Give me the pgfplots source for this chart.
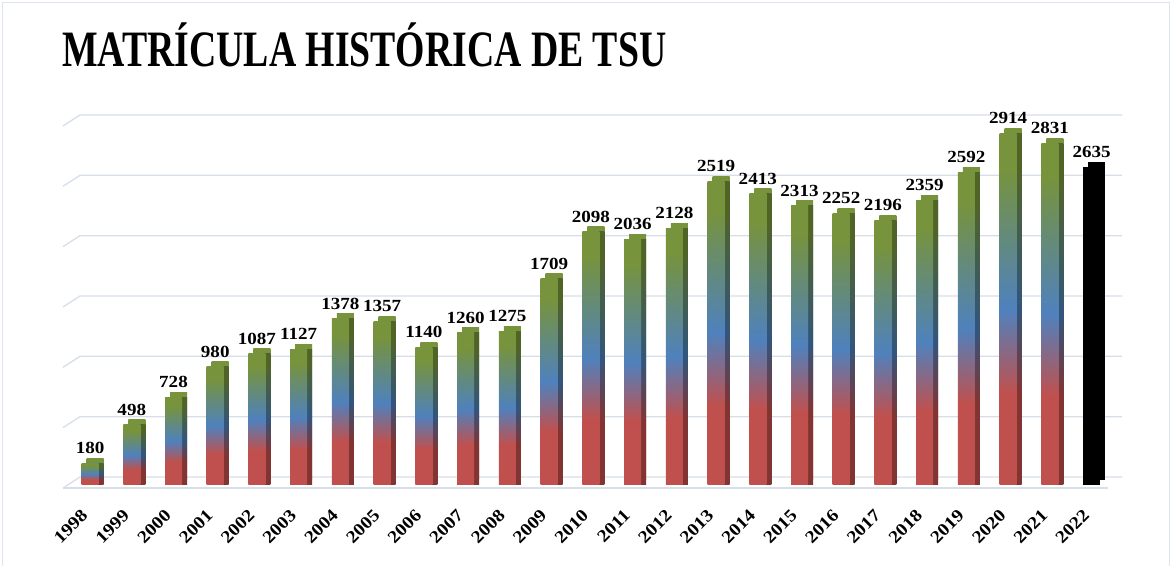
\documentclass[border=0pt]{standalone}
\usepackage{pgfplots}
\pgfplotsset{compat=1.18}
\usepackage{fontspec}
\setmainfont{Liberation Serif}
\newfontfamily\titlefont{Liberation Serif}[FakeStretch=0.74]
\newfontfamily\labfont{Liberation Serif}[FakeStretch=1.12]
\definecolor{bred}{RGB}{192,80,77}
\definecolor{bblue}{RGB}{79,129,189}
\definecolor{bgreen}{RGB}{119,147,60}
\definecolor{dred}{RGB}{130,52,50}
\definecolor{dblue}{RGB}{50,85,125}
\definecolor{dgreen}{RGB}{80,100,40}
\definecolor{gridc}{RGB}{214,222,232}
\definecolor{framec}{RGB}{220,228,238}
\pgfdeclareverticalshading{barshade}{100bp}{color(0bp)=(bred); color(38bp)=(bred); color(50bp)=(bblue); color(70bp)=(bgreen); color(100bp)=(bgreen)}
\pgfdeclareverticalshading{barshadedark}{100bp}{color(0bp)=(dred); color(38bp)=(dred); color(50bp)=(dblue); color(70bp)=(dgreen); color(100bp)=(dgreen)}
% one 3D bar: top face, side face, front face, value label
\newcommand{\onebar}[2]{%
  \addplot[ybar, bar width=17pt, bar shift=5pt, yshift=5pt, draw=none, shade, shading=barshade] coordinates {(#1,#2)};
  \addplot[ybar, bar width=17pt, bar shift=5pt, draw=none, shade, shading=barshadedark] coordinates {(#1,#2)};
  \addplot[ybar, bar width=17pt, bar shift=0pt, draw=none, shade, shading=barshade] coordinates {(#1,#2)};
  \addplot[only marks, mark=none, nodes near coords, point meta=explicit symbolic] coordinates {(#1,#2) [#2]};
}
\begin{document}
\begin{tikzpicture}[x=1pt,y=1pt]
\path (0,0) rectangle (1172,564);
\draw[framec, line width=1.5pt] (2.5,-2) -- (2.5,561.5) -- (1169.5,561.5) -- (1169.5,-2);
\node[anchor=base west, inner sep=0pt, font=\titlefont\bfseries\fontsize{51}{51}\selectfont] at (62,497) {MATRÍCULA HISTÓRICA DE TSU};
\begin{axis}[at={(65pt,79pt)}, anchor=south west, scale only axis,
  width=1060pt, height=362pt,
  xmin=-0.6, xmax=24.8, ymin=0, ymax=3000,
  axis line style={draw=none}, ytick=\empty,
  xtick={0,...,24},
  xticklabels={1998,1999,2000,2001,2002,2003,2004,2005,2006,2007,2008,2009,2010,2011,2012,2013,2014,2015,2016,2017,2018,2019,2020,2021,2022},
  major tick length=0pt,
  xticklabel shift=14pt,
  xticklabel style={font=\labfont\bfseries\fontsize{17.5}{17.5}\selectfont, xshift=-3pt, yshift=-11pt, rotate=45, anchor=east},
  every node near coord/.append style={font=\labfont\bfseries\fontsize{17}{17}\selectfont, text=black, anchor=south, yshift=6pt},
  clip=false]
\pgfplotsinvokeforeach{0,500,...,3000}{
  \draw[gridc, line width=1.3pt] ([xshift=-2pt,yshift=-3pt]axis cs:-0.6,#1) -- ([xshift=15pt,yshift=8pt]axis cs:-0.6,#1) -- ([xshift=-3pt,yshift=8pt]axis cs:24.8,#1);
}
\draw[gridc, line width=1.3pt] ([xshift=-2pt,yshift=-3pt]axis cs:-0.6,0) -- ([xshift=-17pt,yshift=-3pt]axis cs:24.8,0);
\onebar{0}{180}
\onebar{1}{498}
\onebar{2}{728}
\onebar{3}{980}
\onebar{4}{1087}
\onebar{5}{1127}
\onebar{6}{1378}
\onebar{7}{1357}
\onebar{8}{1140}
\onebar{9}{1260}
\onebar{10}{1275}
\onebar{11}{1709}
\onebar{12}{2098}
\onebar{13}{2036}
\onebar{14}{2128}
\onebar{15}{2519}
\onebar{16}{2413}
\onebar{17}{2313}
\onebar{18}{2252}
\onebar{19}{2196}
\onebar{20}{2359}
\onebar{21}{2592}
\onebar{22}{2914}
\onebar{23}{2831}
% 2022: black bar
\addplot[ybar, bar width=17pt, bar shift=5pt, yshift=5pt, draw=none, fill=black] coordinates {(24,2635)};
\addplot[ybar, bar width=17pt, bar shift=0pt, draw=none, fill=black] coordinates {(24,2635)};
\addplot[only marks, mark=none, nodes near coords, point meta=explicit symbolic] coordinates {(24,2635) [2635]};
\end{axis}
\end{tikzpicture}
\end{document}
